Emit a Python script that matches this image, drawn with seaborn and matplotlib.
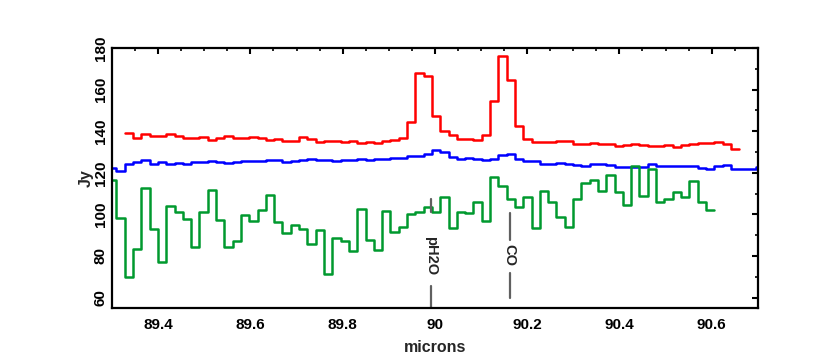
import numpy as np
import pandas as pd
import matplotlib
matplotlib.use('Agg')
from matplotlib import pyplot as plt
from matplotlib.ticker import MultipleLocator
import seaborn as sns

# spectral bins (microns) and flux per bin (Jy)
bin_width = 0.018
red_start = 89.3275
blue_start = 89.2915
green_start = 89.2915

red_flux = [139.0, 136.9, 138.8, 137.7, 137.7, 138.5, 137.5, 136.6, 136.6, 137.1,
            135.6, 136.6, 137.7, 136.6, 136.6, 137.2, 136.6, 135.8, 136.3, 135.3,
            135.3, 137.2, 136.1, 134.8, 135.4, 135.4, 134.8, 135.4, 134.3, 135.0,
            134.5, 135.1, 135.9, 136.7, 144.3, 167.8, 166.7, 147.5, 140.1, 138.0,
            136.3, 136.3, 135.8, 138.2, 154.5, 176.3, 164.6, 142.7, 136.3, 134.6,
            135.0, 134.6, 135.1, 135.1, 133.8, 133.8, 134.2, 133.7, 133.8, 132.9,
            133.4, 133.7, 133.4, 132.9, 132.7, 133.2, 132.6, 133.2, 133.7, 134.3,
            134.5, 135.0, 134.0, 131.4]

blue_flux = [122.2, 121.0, 124.2, 125.0, 126.2, 124.2, 125.2, 124.2, 124.9, 124.2,
             125.2, 125.4, 125.8, 125.2, 124.6, 125.2, 125.8, 125.8, 125.8, 126.3,
             126.0, 125.0, 125.7, 126.2, 126.6, 126.2, 126.2, 125.7, 126.2, 126.2,
             126.6, 126.2, 126.6, 126.6, 127.3, 127.3, 128.1, 128.1, 129.0, 131.0,
             130.0, 127.8, 126.6, 127.1, 126.6, 126.0, 126.8, 128.6, 129.0, 126.6,
             125.8, 125.7, 124.1, 124.1, 124.6, 124.1, 123.8, 123.3, 124.2, 124.1,
             123.6, 123.0, 123.0, 123.0, 123.0, 124.1, 123.3, 123.3, 123.3, 123.3,
             123.3, 122.5, 122.0, 123.4, 123.8, 122.0, 121.7, 122.0, 123.0]

green_flux = [116.5, 98.4, 69.7, 83.4, 112.8, 93.0, 77.3, 104.0, 101.0, 97.6,
              84.5, 101.0, 111.7, 97.1, 84.5, 87.4, 99.7, 96.8, 102.1, 109.5,
              96.5, 90.9, 94.9, 93.0, 85.8, 92.5, 71.3, 88.5, 87.4, 82.6,
              102.6, 87.7, 82.9, 101.8, 91.7, 94.1, 100.0, 101.0, 103.4, 101.3,
              108.2, 93.3, 101.3, 100.5, 105.8, 97.0, 117.8, 113.8, 107.2, 103.4,
              108.2, 93.3, 111.4, 105.8, 98.9, 94.1, 107.2, 114.9, 116.5, 111.4,
              118.9, 110.9, 104.5, 123.3, 109.0, 121.7, 106.1, 107.2, 110.9, 108.5,
              116.2, 106.1, 102.1]

line_names = ['pH2O', 'CO']
line_waves = [89.992, 90.162]

x_ticks = [89.4, 89.6, 89.8, 90.0, 90.2, 90.4, 90.6]
x_tick_labels = ['89.4', '89.6', '89.8', '90', '90.2', '90.4', '90.6']
y_ticks = [60, 80, 100, 120, 140, 160, 180]


def steps(start, flux):
    x = start + bin_width * np.arange(len(flux) + 1)
    y = list(flux) + [flux[-1]]
    return pd.DataFrame({'microns': x, 'Jy': y})


sns.set_style("white")
plt.rcParams['font.family'] = ['Liberation Sans', 'DejaVu Sans']
plt.rcParams['font.weight'] = 'bold'

fig = plt.figure(figsize=(8.3, 3.56), dpi=100)
ax = fig.add_axes([0.135, 0.135, 0.778, 0.73])

for start, flux, col in [(red_start, red_flux, '#ff0000'),
                         (blue_start, blue_flux, '#0000ff'),
                         (green_start, green_flux, '#00992e')]:
    sns.lineplot(data=steps(start, flux), x='microns', y='Jy', drawstyle='steps-post',
                 color=col, lw=1.8, estimator=None, ax=ax)

# line markers: gray segments with the label in between
marker_layout = [((0.37, 0.418), (0.0, 0.085), 0.2),
                 ((0.262, 0.366), (0.038, 0.134), 0.204)]
for name, wave, (top, bottom, ty) in zip(line_names, line_waves, marker_layout):
    ax.axvline(wave, ymin=top[0], ymax=top[1], color='#606060', lw=1.6)
    ax.axvline(wave, ymin=bottom[0], ymax=bottom[1], color='#606060', lw=1.6)
    ax.text(wave, ty, name, transform=ax.get_xaxis_transform(), rotation=270,
            ha='center', va='center', fontsize=10.5, fontweight='bold')

ax.set_xlim(89.3, 90.7)
ax.set_ylim(55, 180)
ax.set_xticks(x_ticks)
ax.set_xticklabels(x_tick_labels)
ax.set_yticks(y_ticks)
ax.xaxis.set_minor_locator(MultipleLocator(0.05))
ax.yaxis.set_minor_locator(MultipleLocator(10))
ax.tick_params(which='both', direction='in', top=True, right=True, colors='black')
ax.tick_params(which='major', length=4, width=1.5)
ax.tick_params(which='minor', length=2, width=1.2)
ax.tick_params(axis='x', labelsize=11, pad=7)
ax.tick_params(axis='y', labelsize=11, pad=3, labelrotation=90)
for lbl in ax.get_yticklabels():
    lbl.set_va('center')
for sp in ax.spines.values():
    sp.set_color('black')
    sp.set_linewidth(1.6)

ax.set_xlabel('microns', fontsize=11.5, fontweight='bold', labelpad=6)
ax.set_ylabel('Jy', fontsize=11.5, fontweight='bold', labelpad=0)

fig.savefig('out.png', dpi=100)
